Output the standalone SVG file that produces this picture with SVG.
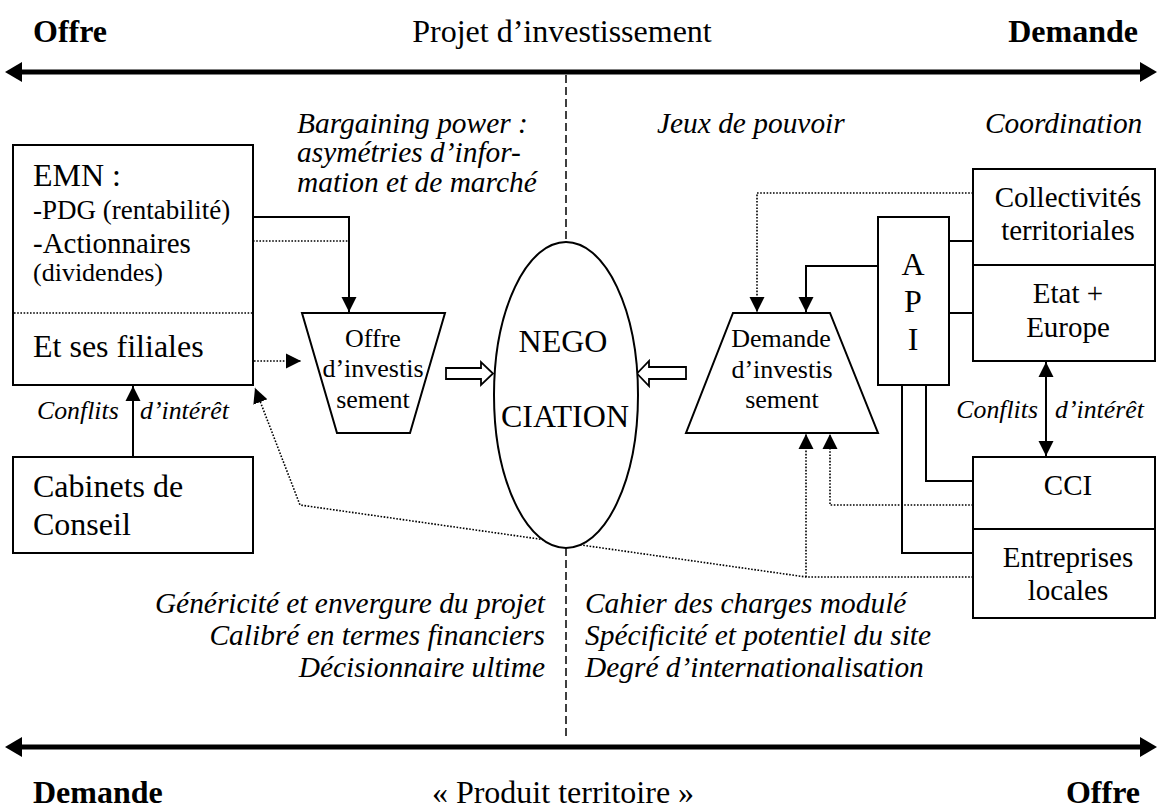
<svg xmlns="http://www.w3.org/2000/svg" width="1157" height="809" viewBox="0 0 1157 809" font-family="'Liberation Serif', 'DejaVu Serif', serif">
<style>
text{font-family:'Liberation Serif','DejaVu Serif',serif;fill:#000}
.b{font-weight:bold;font-size:32px}
.r32{font-size:32px}
.r29{font-size:29px}
.r26{font-size:26px}
.i{font-style:italic;font-size:29.4px}
.ic{font-style:italic;font-size:25.8px}
.box{fill:#fff;stroke:#000;stroke-width:2}
.ln{fill:none;stroke:#000;stroke-width:2}
.dot{fill:none;stroke:#000;stroke-width:1.6;stroke-dasharray:1.6,1.6}
.dash{fill:none;stroke:#000;stroke-width:1.5;stroke-dasharray:8,4}
.axis{fill:none;stroke:#000;stroke-width:5}
.m{text-anchor:middle}
.e{text-anchor:end}
</style>
<defs>
<marker id="ah" viewBox="0 0 16 16" markerWidth="16" markerHeight="16" refX="15" refY="8" orient="auto-start-reverse" markerUnits="userSpaceOnUse">
<path d="M0,0.5 L15,8 L0,15.5 Z" fill="#000"/>
</marker>
</defs>
<rect width="1157" height="809" fill="#fff"/>

<g id="axes">
<line class="axis" x1="18" y1="72" x2="1146" y2="72"/>
<polygon points="5,72 22,62 22,82" fill="#000"/>
<polygon points="1157,72 1140,62 1140,82" fill="#000"/>
<line class="axis" x1="18" y1="747" x2="1146" y2="747"/>
<polygon points="5,747 22,737 22,757" fill="#000"/>
<polygon points="1157,747 1140,737 1140,757" fill="#000"/>
<line class="dash" x1="566" y1="75" x2="566" y2="242"/>
<line class="dash" x1="566" y1="548" x2="566" y2="740"/>
</g>

<g id="labels">
<text class="b" x="33" y="42">Offre</text>
<text class="r32 m" x="562" y="42">Projet d’investissement</text>
<text class="b e" x="1138" y="42">Demande</text>
<text class="b" x="33" y="803">Demande</text>
<text class="r32 m" x="563" y="803">« Produit territoire »</text>
<text class="b e" x="1140" y="803">Offre</text>
<text class="i" x="297" y="133">Bargaining power :</text>
<text class="i" x="297" y="162">asymétries d’infor-</text>
<text class="i" x="297" y="192">mation et de marché</text>
<text class="i" x="657" y="133">Jeux de pouvoir</text>
<text class="i" x="985" y="133">Coordination</text>
<text class="i e" x="545" y="613">Généricité et envergure du projet</text>
<text class="i e" x="545" y="645">Calibré en termes financiers</text>
<text class="i e" x="545" y="677">Décisionnaire ultime</text>
<text class="i" x="585" y="613">Cahier des charges modulé</text>
<text class="i" x="585" y="645">Spécificité et potentiel du site</text>
<text class="i" x="585" y="677">Degré d’internationalisation</text>
<text class="ic" x="37" y="419">Conflits</text>
<text class="ic" x="140" y="419">d’intérêt</text>
<text class="ic e" x="1038" y="418">Conflits</text>
<text class="ic" x="1055" y="418">d’intérêt</text>
</g>

<g id="connectors">
<polyline class="ln" points="253,217 349,217 349,312" marker-end="url(#ah)"/>
<line class="dot" x1="253" y1="241" x2="348" y2="241"/>
<line class="dot" x1="254" y1="361" x2="301" y2="361" marker-end="url(#ah)"/>
<line class="ln" x1="133" y1="457" x2="133" y2="386" marker-end="url(#ah)"/>
<polyline class="dot" points="973,577 806,577 300,505 255,388" marker-end="url(#ah)"/>
<line class="dot" x1="806" y1="577" x2="806" y2="434" marker-end="url(#ah)"/>
<polyline class="dot" points="973,505 830,505 830,434" marker-end="url(#ah)"/>
<polyline class="dot" points="973,193 757,193 757,312" marker-end="url(#ah)"/>
<polyline class="ln" points="878,266 806,266 806,312" marker-end="url(#ah)"/>
<line class="ln" x1="949" y1="241" x2="973" y2="241"/>
<line class="ln" x1="949" y1="313" x2="973" y2="313"/>
<polyline class="ln" points="926,385 926,481 973,481"/>
<polyline class="ln" points="902,385 902,553 973,553"/>
<line class="ln" x1="1046" y1="362" x2="1046" y2="456" marker-start="url(#ah)" marker-end="url(#ah)"/>
<path d="M446,368 L481,368 L481,362 L493,373.5 L481,385 L481,379 L446,379 Z" fill="#fff" stroke="#000" stroke-width="1.8"/>
<path d="M686,367 L649,367 L649,361 L637,373.5 L649,386 L649,379 L686,379 Z" fill="#fff" stroke="#000" stroke-width="1.8"/>
</g>

<g id="emn">
<rect class="box" x="13" y="145" width="240" height="240"/>
<line class="dot" x1="14" y1="313" x2="252" y2="313"/>
<text class="r32" x="33" y="186">EMN :</text>
<text style="font-size:27px" x="33" y="219">-PDG (rentabilité)</text>
<text class="r29" x="33" y="253">-Actionnaires</text>
<text class="r26" x="33" y="281">(dividendes)</text>
<text class="r32" x="33" y="357">Et ses filiales</text>
</g>

<g id="cabinets">
<rect class="box" x="13" y="457" width="240" height="96"/>
<text class="r32" x="33" y="497">Cabinets de</text>
<text class="r32" x="33" y="535">Conseil</text>
</g>

<g id="offre">
<polygon class="box" points="302,313 445,313 410,433 337,433"/>
<text class="r26 m" x="373" y="347">Offre</text>
<text class="r26 m" x="373" y="377">d’investis</text>
<text class="r26 m" x="373" y="408">sement</text>
</g>

<g id="negociation">
<ellipse class="box" cx="566" cy="395" rx="72" ry="153"/>
<text class="r32 m" x="563" y="352">NEGO</text>
<text class="r32 m" x="565" y="427">CIATION</text>
</g>

<g id="demande">
<polygon class="box" points="733,313 830,313 878,433 686,433"/>
<text class="r26 m" x="781" y="347">Demande</text>
<text class="r26 m" x="782" y="378">d’investis</text>
<text class="r26 m" x="782" y="408">sement</text>
</g>

<g id="api">
<rect class="box" x="878" y="217" width="71" height="168"/>
<text class="r32 m" x="913" y="275">A</text>
<text class="r32 m" x="913" y="312">P</text>
<text class="r32 m" x="913" y="350">I</text>
</g>

<g id="collectivites">
<rect class="box" x="973" y="169" width="182" height="96"/>
<text class="r29 m" x="1068" y="207">Collectivités</text>
<text class="r29 m" x="1068" y="240">territoriales</text>
</g>

<g id="etat">
<rect class="box" x="973" y="265" width="182" height="96"/>
<text class="r29 m" x="1068" y="303">Etat +</text>
<text class="r29 m" x="1068" y="337">Europe</text>
</g>

<g id="cci">
<rect class="box" x="973" y="457" width="182" height="72"/>
<text class="r29 m" x="1068" y="495">CCI</text>
</g>

<g id="entreprises">
<rect class="box" x="973" y="529" width="182" height="89"/>
<text class="r29 m" x="1068" y="567">Entreprises</text>
<text class="r29 m" x="1068" y="600">locales</text>
</g>
</svg>
